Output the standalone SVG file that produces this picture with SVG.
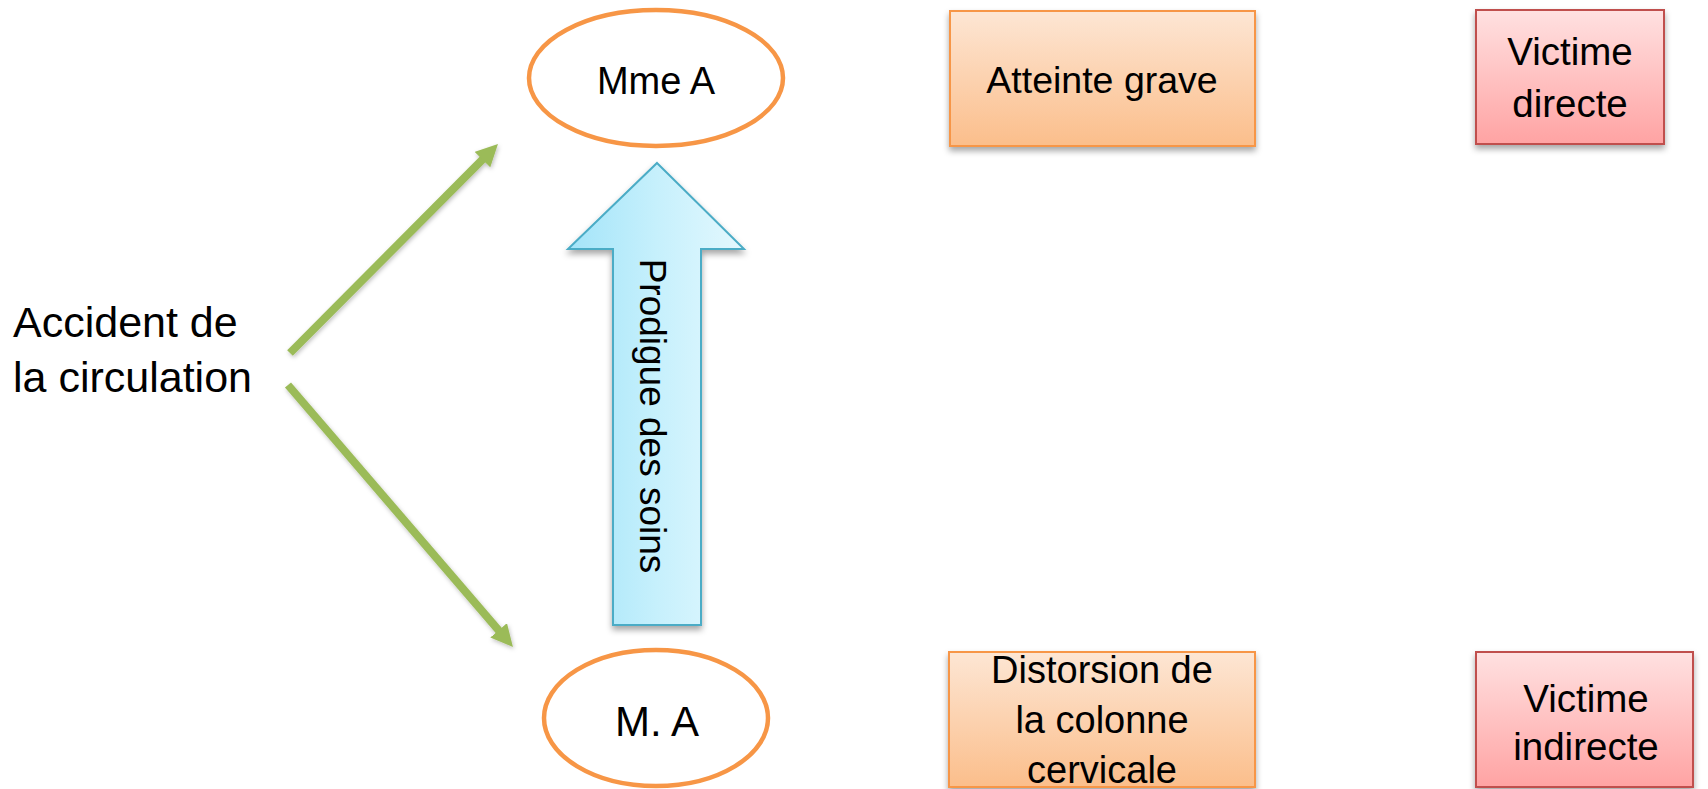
<svg xmlns="http://www.w3.org/2000/svg" width="1708" height="789" viewBox="0 0 1708 789">
<style>
.t{font-family:"Liberation Sans",Arial,sans-serif;fill:#000;}
.ell{fill:#fff;stroke:#F79646;stroke-width:4.5;}
.obox{fill:url(#gOrange);stroke:#F79646;stroke-width:2;}
.rbox{fill:url(#gRed);stroke:#C0504D;stroke-width:2;}
.conn{stroke:#9BBB59;stroke-width:8;fill:none;}
</style>
<defs>
<linearGradient id="gOrange" x1="0" y1="0" x2="0" y2="1">
<stop offset="0" stop-color="#FDE6D4"/><stop offset="1" stop-color="#FBBE8B"/>
</linearGradient>
<linearGradient id="gRed" x1="0" y1="0" x2="0" y2="1">
<stop offset="0" stop-color="#FFE1E1"/><stop offset="1" stop-color="#FFA3A3"/>
</linearGradient>
<linearGradient id="gBlue" x1="0" y1="0" x2="1" y2="0">
<stop offset="0" stop-color="#A3E4F9"/><stop offset="0.5" stop-color="#C6F0FC"/><stop offset="1" stop-color="#E4F8FE"/>
</linearGradient>
<filter id="sh" x="-20%" y="-20%" width="140%" height="150%">
<feDropShadow dx="0" dy="4" stdDeviation="3" flood-color="#000" flood-opacity="0.35"/>
</filter>
<filter id="shs" x="-20%" y="-20%" width="140%" height="140%">
<feDropShadow dx="1" dy="2" stdDeviation="2" flood-color="#000" flood-opacity="0.25"/>
</filter>
<marker id="ah" markerUnits="userSpaceOnUse" markerWidth="22" markerHeight="22" viewBox="0 0 22 22" refX="7" refY="11" orient="auto">
<path d="M0,0 L22,11 L0,22 z" fill="#9BBB59"/>
</marker>
</defs>

<g id="connectors" filter="url(#shs)">
<line class="conn" x1="290" y1="353" x2="487.4" y2="154.6" marker-end="url(#ah)"/>
<line class="conn" x1="288" y1="385" x2="503.2" y2="635.6" marker-end="url(#ah)"/>
</g>

<g id="accident">
<text class="t" x="13" y="337" font-size="43">Accident de</text>
<text class="t" x="13" y="392" font-size="43">la circulation</text>
</g>

<g id="mmeA">
<ellipse class="ell" cx="656" cy="78" rx="127" ry="68"/>
<text class="t" x="656" y="94" font-size="38" text-anchor="middle">Mme A</text>
</g>

<g id="mA">
<ellipse class="ell" cx="656" cy="718" rx="112" ry="68"/>
<text class="t" x="657" y="736" font-size="42" text-anchor="middle">M. A</text>
</g>

<g id="soins">
<path d="M657,163 L744,249 L701,249 L701,625 L613,625 L613,249 L568,249 Z" fill="url(#gBlue)" stroke="#4BACC6" stroke-width="2" filter="url(#sh)"/>
<text class="t" font-size="37" text-anchor="middle" transform="translate(640,416) rotate(90)">Prodigue des soins</text>
</g>

<g id="atteinte">
<rect class="obox" x="950" y="11" width="305" height="135" filter="url(#sh)"/>
<text class="t" x="1102" y="93" font-size="37.5" text-anchor="middle">Atteinte grave</text>
</g>

<g id="distorsion">
<rect class="obox" x="949" y="652" width="306" height="135" filter="url(#sh)"/>
<text class="t" x="1102" y="683" font-size="38" text-anchor="middle">Distorsion de</text>
<text class="t" x="1102" y="733" font-size="38" text-anchor="middle">la colonne</text>
<text class="t" x="1102" y="783" font-size="38" text-anchor="middle">cervicale</text>
</g>

<g id="directe">
<rect class="rbox" x="1476" y="10" width="188" height="134" filter="url(#sh)"/>
<text class="t" x="1570" y="65" font-size="38.5" text-anchor="middle">Victime</text>
<text class="t" x="1570" y="117" font-size="38.5" text-anchor="middle">directe</text>
</g>

<g id="indirecte">
<rect class="rbox" x="1476" y="652" width="217" height="135" filter="url(#sh)"/>
<text class="t" x="1586" y="712" font-size="38.5" text-anchor="middle">Victime</text>
<text class="t" x="1586" y="760" font-size="38.5" text-anchor="middle">indirecte</text>
</g>
</svg>
